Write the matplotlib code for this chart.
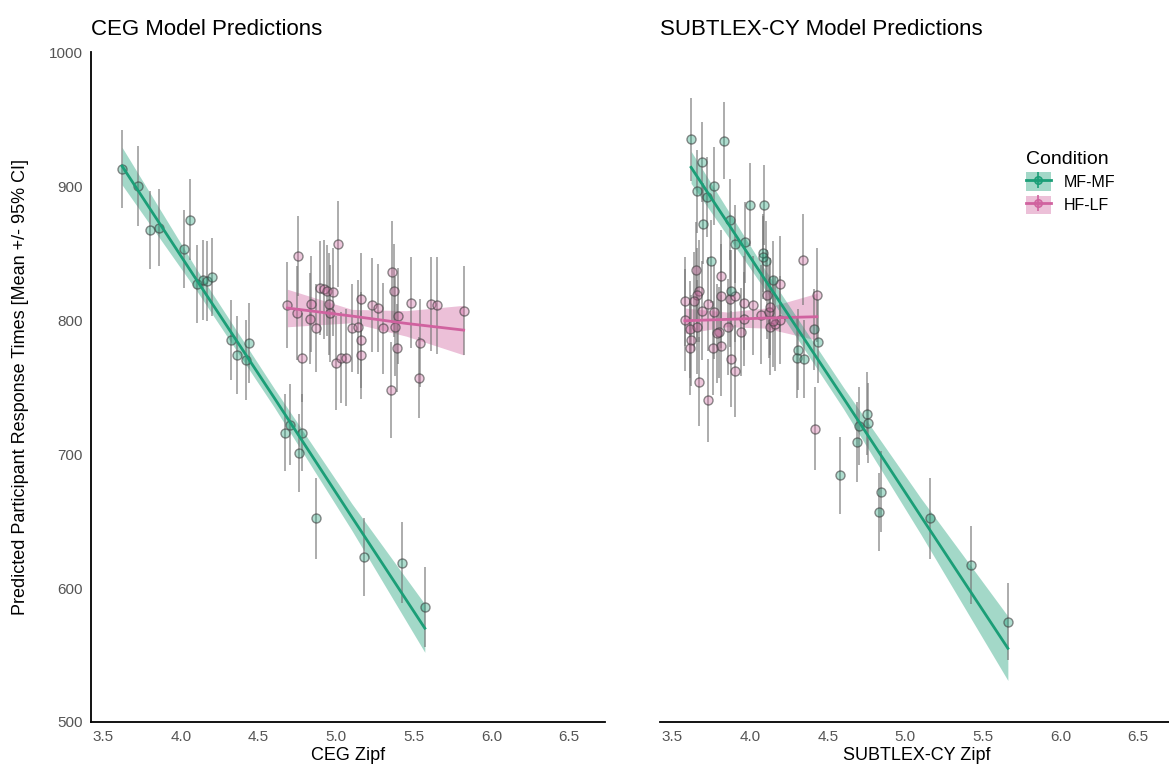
import numpy as np
import matplotlib.pyplot as plt
from matplotlib.colors import to_rgb
from matplotlib.patches import Patch
from matplotlib.lines import Line2D

plt.rcParams['font.family'] = ['Liberation Sans', 'DejaVu Sans']

GREEN = '#1b9e77'
PINK = '#d0629f'

# CEG model: MF-MF items
ceg_mf_x = [3.62, 3.72, 3.80, 3.86, 4.02, 4.06, 4.10, 4.14, 4.17, 4.20, 4.32,
            4.36, 4.42, 4.44, 4.67, 4.70, 4.78, 4.76, 4.87, 5.18, 5.42, 5.57]
ceg_mf_y = [913, 900, 867, 869, 853, 875, 827, 830, 829, 832, 785,
            774, 770, 783, 716, 722, 716, 701, 652, 623, 619, 586]
ceg_mf_err = [29, 30, 29, 29, 29, 30, 29, 30, 30, 29, 30,
              29, 30, 30, 29, 30, 29, 29, 30, 29, 30, 30]

# CEG model: HF-LF items
ceg_hl_x = [4.685, 4.745, 4.755, 4.78, 4.83, 4.84, 4.87, 4.895, 4.92, 4.94,
            4.95, 4.96, 4.98, 5.01, 5.00, 5.03, 5.06, 5.10, 5.14, 5.16,
            5.16, 5.16, 5.23, 5.27, 5.30, 5.35, 5.36, 5.37, 5.38, 5.39,
            5.40, 5.48, 5.53, 5.54, 5.61, 5.65, 5.82]
ceg_hl_y = [811, 805, 848, 772, 801, 812, 794, 824, 823, 822,
            812, 805, 821, 857, 768, 772, 772, 794, 795, 816,
            785, 774, 811, 809, 794, 748, 836, 822, 795, 779,
            803, 813, 757, 783, 812, 811, 807]
ceg_hl_err = [32, 35, 30, 33, 34, 36, 33, 35, 37, 34,
              38, 36, 33, 32, 35, 34, 36, 33, 35, 34,
              36, 33, 35, 33, 34, 36, 38, 35, 37, 33,
              36, 34, 30, 33, 35, 36, 33]

# SUBTLEX-CY model: MF-MF items
sub_mf_x = [3.62, 3.83, 3.69, 3.66, 3.72, 3.77, 3.70, 3.75, 3.87, 3.90,
            3.97, 4.00, 4.09, 4.08, 4.10, 4.085, 3.88, 4.15, 4.31, 4.30,
            4.35, 4.41, 4.44, 4.69, 4.70, 4.75, 4.76, 4.58, 4.84, 4.83,
            5.16, 5.42, 5.66]
sub_mf_y = [935, 934, 918, 896, 892, 900, 872, 844, 875, 857,
            858, 886, 886, 850, 844, 847, 822, 830, 778, 772,
            771, 793, 784, 709, 721, 730, 723, 684, 672, 657,
            652, 617, 575]
sub_mf_err = [31, 29, 30, 31, 30, 29, 30, 31, 30, 29,
              30, 31, 30, 29, 30, 31, 30, 29, 30, 30,
              29, 30, 31, 30, 29, 31, 30, 29, 30, 29,
              30, 29, 29]

# SUBTLEX-CY model: HF-LF items
sub_hl_x = [3.65, 3.81, 3.67, 3.66, 3.58, 3.64, 3.73, 3.81, 3.87, 3.90,
            3.96, 4.02, 4.11, 4.19, 4.34, 4.43, 3.58, 3.61, 3.62, 3.61,
            3.69, 3.77, 3.80, 3.86, 3.81, 3.76, 3.94, 3.88, 3.90, 3.67,
            3.73, 3.96, 4.07, 4.12, 4.13, 4.16, 4.19, 4.42, 4.13, 4.15,
            3.66, 3.79]
sub_hl_y = [837, 833, 822, 819, 814, 814, 812, 818, 816, 818,
            813, 811, 819, 827, 845, 819, 800, 793, 785, 779,
            807, 806, 791, 795, 781, 779, 791, 771, 762, 754,
            740, 801, 804, 806, 795, 797, 800, 719, 810, 799,
            795, 790]
sub_hl_err = [36, 34, 38, 35, 33, 37, 35, 39, 36, 34,
              35, 37, 33, 36, 34, 35, 38, 36, 34, 35,
              37, 35, 34, 36, 38, 35, 33, 36, 34, 33,
              31, 35, 37, 34, 36, 35, 33, 31, 36, 34,
              35, 37]

# model fits with 95% CI band
ceg_mf_fx = [3.62, 4.10, 4.60, 5.10, 5.57]
ceg_mf_fy = [915, 830, 742, 653, 570]
ceg_mf_lo = [901, 822, 735, 643, 552]
ceg_mf_hi = [929, 838, 749, 663, 588]

ceg_hl_fx = [4.685, 5.10, 5.45, 5.82]
ceg_hl_fy = [809, 803, 797.5, 792.5]
ceg_hl_lo = [795, 798, 788, 774]
ceg_hl_hi = [823, 808, 807, 811]

sub_mf_fx = [3.62, 4.10, 4.60, 5.10, 5.66]
sub_mf_fy = [914, 829.5, 742, 653.5, 555]
sub_mf_lo = [902, 822, 734, 640, 531]
sub_mf_hi = [926, 837, 750, 667, 579]

sub_hl_fx = [3.58, 3.85, 4.10, 4.43]
sub_hl_fy = [799.5, 800.5, 801.5, 802.5]
sub_hl_lo = [790, 795, 794, 785]
sub_hl_hi = [809, 806, 809, 820]

x_ticks = [3.5, 4.0, 4.5, 5.0, 5.5, 6.0, 6.5]
y_ticks = [500, 600, 700, 800, 900, 1000]


def draw_group(ax, x, y, err, fx, fy, lo, hi, color):
    ax.fill_between(fx, lo, hi, color=color, alpha=0.4, linewidth=0, zorder=1)
    ax.errorbar(x, y, yerr=err, fmt='o', ms=6.5,
                ecolor=(0.45, 0.45, 0.45, 0.75), elinewidth=1.1,
                mfc=(*to_rgb(color), 0.35),
                mec=(0.25, 0.25, 0.25, 0.6), mew=1.0, zorder=2)
    ax.plot(fx, fy, color=color, lw=2.0, zorder=3)


fig = plt.figure(figsize=(11.69, 7.78), dpi=100)
ax1 = fig.add_axes([0.0778, 0.072, 0.4397, 0.861])
ax2 = fig.add_axes([0.5646, 0.072, 0.4397, 0.861])

draw_group(ax1, ceg_hl_x, ceg_hl_y, ceg_hl_err, ceg_hl_fx, ceg_hl_fy, ceg_hl_lo, ceg_hl_hi, PINK)
draw_group(ax1, ceg_mf_x, ceg_mf_y, ceg_mf_err, ceg_mf_fx, ceg_mf_fy, ceg_mf_lo, ceg_mf_hi, GREEN)
draw_group(ax2, sub_hl_x, sub_hl_y, sub_hl_err, sub_hl_fx, sub_hl_fy, sub_hl_lo, sub_hl_hi, PINK)
draw_group(ax2, sub_mf_x, sub_mf_y, sub_mf_err, sub_mf_fx, sub_mf_fy, sub_mf_lo, sub_mf_hi, GREEN)

for ax in (ax1, ax2):
    ax.set_xlim(3.42, 6.73)
    ax.set_ylim(500, 1000)
    ax.set_xticks(x_ticks)
    ax.set_xticklabels([f'{t:.1f}' for t in x_ticks])
    ax.tick_params(length=0, labelsize=11, labelcolor='#555555', pad=6)
    for s in ('top', 'right'):
        ax.spines[s].set_visible(False)
    ax.spines['bottom'].set_linewidth(1.3)
    ax.spines['left'].set_linewidth(1.3)

ax1.set_yticks(y_ticks)
ax2.spines['left'].set_visible(False)
ax2.set_yticks([])

ax1.set_title('CEG Model Predictions', loc='left', fontsize=16, pad=12)
ax2.set_title('SUBTLEX-CY Model Predictions', loc='left', fontsize=16, pad=12)
ax1.set_xlabel('CEG Zipf', fontsize=13, labelpad=2)
ax2.set_xlabel('SUBTLEX-CY Zipf', fontsize=13, labelpad=2)
ax1.set_ylabel('Predicted Participant Response Times [Mean +/- 95% CI]', fontsize=13, labelpad=14)

# legend keys: shaded band + errorbar glyph
handles = []
for c in (GREEN, PINK):
    handles.append((Patch(facecolor=c, alpha=0.4, edgecolor='none'),
                    Line2D([], [], color=c, lw=2, marker='o', ms=5.5,
                           mfc=(*to_rgb(c), 0.6), mec=c),
                    Line2D([], [], color=c, lw=0, marker='|', ms=12,
                           mew=1.2)))
fig.legend(handles, ['MF-MF', 'HF-LF'], title='Condition', loc='upper left',
           bbox_to_anchor=(0.865, 0.825), frameon=False, fontsize=11.5,
           title_fontsize=14, handlelength=1.6, handleheight=1.4,
           labelspacing=0.3, alignment='left')

fig.savefig('out.png', dpi=100, facecolor='white')
